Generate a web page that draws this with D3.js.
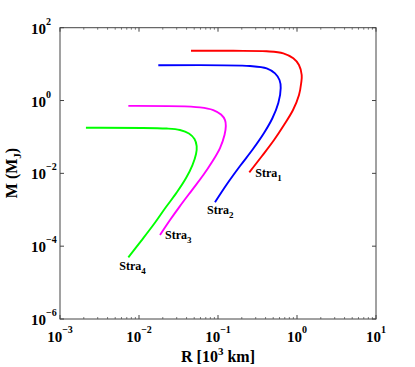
<!DOCTYPE html>
<html><head><meta charset="utf-8">
<script src="https://cdn.jsdelivr.net/npm/d3@7"></script>
<style>body{margin:0;background:#fff}svg{display:block}text{font-family:"Liberation Serif","Times New Roman",serif;font-weight:bold;fill:#000}</style>
</head><body><svg id="c" width="415" height="367"></svg>
<script>
// Data (R in 10^3 km, M in M_J)
const stra1R = [0.0455,0.156,0.413,0.671,0.898,1.059,1.147,1.130,1.060,0.890,0.684,0.512,0.3605,0.249];
const stra1M = [23.3,23.2,22.5,19.8,14.4,9.44,5.02,3.03,1.416,0.548,0.212,0.0822,0.0299,0.01064];
const stra2R = [0.01755,0.254,0.413,0.527,0.6006,0.622,0.580,0.4897,0.3823,0.2773,0.190,0.130,0.0916];
const stra2M = [9.27,8.87,7.67,5.58,3.66,2.205,0.854,0.3306,0.128,0.04652,0.01587,0.00508,0.0016];
const stra3R = [0.00733,0.0592,0.0871,0.1092,0.1227,0.1256,0.1209,0.106,0.0840,0.0652,0.0469,0.0330,0.0247,0.01845];
const stra3M = [0.714,0.650,0.548,0.4125,0.2912,0.1993,0.1128,0.0496,0.02044,0.00898,0.003477,0.00126,0.000521,0.000202];
const stra4R = [0.00213,0.0224,0.0330,0.0429,0.0504,0.0537,0.0527,0.0475,0.0394,0.0303,0.02197,0.01548,0.0106,0.00733];
const stra4M = [0.179,0.170,0.155,0.124,0.0876,0.0562,0.0339,0.0169,0.00743,0.003065,0.001187,0.000405,0.000138,0.0000495];
const seriesNames = ["1","2","3","4"];
const seriesColors = ["#ff0000","#0000ff","#ff00ff","#00ff00"];
const xTickExps = [-3,-2,-1,0,1];
const yTickExps = [-6,-4,-2,0,2];

const series = [[stra1R,stra1M],[stra2R,stra2M],[stra3R,stra3M],[stra4R,stra4M]];
const svg = d3.select("#c");
const L=60,R=376,T=27.7,B=319;
const x = d3.scaleLog().domain([1e-3,1e1]).range([L,R]);
const y = d3.scaleLog().domain([1e-6,1e2]).range([B,T]);

const frameColor="#444";
const g = svg.append("g");
for(let e=-3;e<1;e++){for(let k=2;k<=9;k++){const v=k*Math.pow(10,e);const px=x(v);
 g.append("line").attr("x1",px).attr("x2",px).attr("y1",B).attr("y2",B-2).attr("stroke",frameColor).attr("stroke-width",0.7);
 g.append("line").attr("x1",px).attr("x2",px).attr("y1",T).attr("y2",T+2).attr("stroke",frameColor).attr("stroke-width",0.7);}}
xTickExps.forEach(e=>{const px=x(Math.pow(10,e));
 g.append("line").attr("x1",px).attr("x2",px).attr("y1",B).attr("y2",B-4).attr("stroke",frameColor);
 g.append("line").attr("x1",px).attr("x2",px).attr("y1",T).attr("y2",T+4).attr("stroke",frameColor);
 const t=svg.append("text").attr("x",px).attr("y",342).attr("text-anchor","middle").style("font-size","15px");
 t.append("tspan").text("10");
 t.append("tspan").attr("dy",-9).style("font-size","10px").text(e<0?"\u2212"+(-e):String(e));
});
yTickExps.forEach(e=>{const py=y(Math.pow(10,e));
 g.append("line").attr("x1",L).attr("x2",L+4).attr("y1",py).attr("y2",py).attr("stroke",frameColor);
 g.append("line").attr("x1",R).attr("x2",R-4).attr("y1",py).attr("y2",py).attr("stroke",frameColor);
 const t=svg.append("text").attr("x",31).attr("y",py+6).style("font-size","15px");
 t.append("tspan").text("10");
 t.append("tspan").attr("dy",-9).style("font-size","10px").text(e<0?"\u2212"+(-e):String(e));
});
svg.append("rect").attr("x",L).attr("y",T).attr("width",R-L).attr("height",B-T).attr("fill","none").attr("stroke",frameColor).attr("stroke-width",1);

const line = d3.line().x(d=>x(d[0])).y(d=>y(d[1])).curve(d3.curveCatmullRom.alpha(0.5));
series.forEach((s,i)=>{
 const pts = s[0].map((r,j)=>[r,s[1][j]]);
 svg.append("path").attr("d",line(pts)).attr("fill","none").attr("stroke",seriesColors[i]).attr("stroke-width",1.9).attr("stroke-linejoin","round");
});

const labelOffsets=[[6,5],[-8,12],[5,4],[-9,13]];
series.forEach((s,i)=>{
 const n=s[0].length-1;
 const px=x(s[0][n])+labelOffsets[i][0], py=y(s[1][n])+labelOffsets[i][1];
 const t=svg.append("text").attr("x",px).attr("y",py).style("font-size","12px");
 t.append("tspan").text("Stra");
 t.append("tspan").attr("dy",4).style("font-size","9px").text(seriesNames[i]);
});

const xt=svg.append("text").attr("x",218).attr("y",362).attr("text-anchor","middle").style("font-size","16px");
xt.append("tspan").text("R [10");
xt.append("tspan").attr("dy",-7).style("font-size","11px").text("3");
xt.append("tspan").attr("dy",7).text(" km]");
const yt=svg.append("text").attr("transform","translate(17,173) rotate(-90)").attr("text-anchor","middle").style("font-size","16px");
yt.append("tspan").text("M (M");
yt.append("tspan").attr("dy",4).style("font-size","11px").text("J");
yt.append("tspan").attr("dy",-4).text(")");
</script></body></html>
